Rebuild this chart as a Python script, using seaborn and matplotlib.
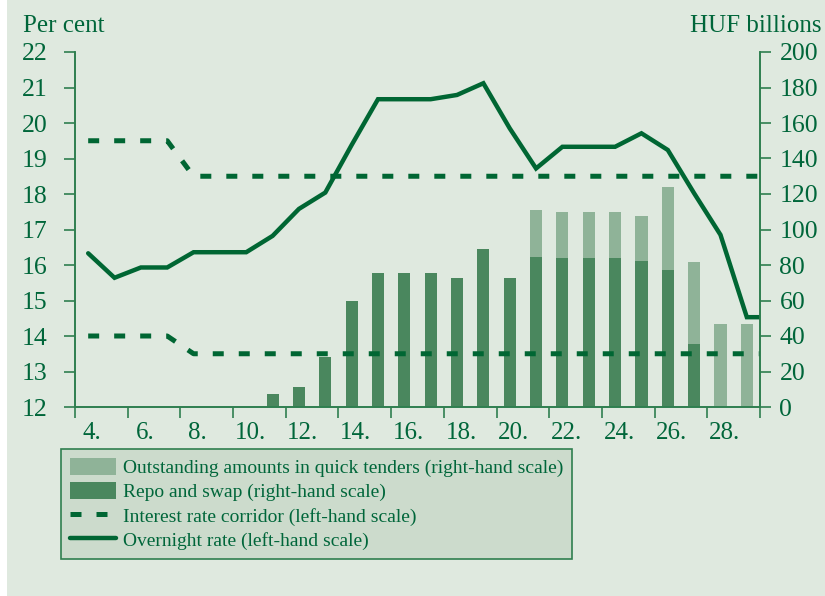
import numpy as np
import pandas as pd
import matplotlib
matplotlib.use("Agg")
import matplotlib.pyplot as plt
import matplotlib.transforms as mtransforms
from matplotlib.patches import Patch, Rectangle
from matplotlib.lines import Line2D
import seaborn as sns

# days of the month shown on the category axis
days = list(range(4, 30))
# overnight rate, per cent (left-hand scale)
overnight = [16.33, 15.64, 15.93, 15.93, 16.36, 16.36, 16.36, 16.82, 17.58, 18.04,
             19.38, 20.67, 20.67, 20.67, 20.79, 21.12, 19.85, 18.72, 19.33, 19.33,
             19.33, 19.71, 19.24, 18.02, 16.85, 14.53]
# interest rate corridor, per cent (left-hand scale)
corridor_upper = [19.5, 19.5, 19.5, 19.5] + [18.5] * 22
corridor_lower = [14.0, 14.0, 14.0, 14.0] + [13.5] * 22
# repo and swap, HUF billions (right-hand scale)
repo_swap = [0, 0, 0, 0, 0, 0, 0, 7.3, 11.5, 28.3, 59.9, 75.3, 75.3, 75.3, 72.9,
             89.0, 72.9, 84.7, 83.8, 83.8, 83.8, 82.3, 77.2, 35.5, 0, 0]
# outstanding amounts in quick tenders, HUF billions (right-hand scale)
quick_tenders = [0, 0, 0, 0, 0, 0, 0, 0, 0, 0, 0, 0, 0, 0, 0,
                 0, 0, 26.3, 26.2, 26.2, 26.2, 25.3, 46.6, 46.4, 46.6, 46.6]

legend_labels = ["Outstanding amounts in quick tenders (right-hand scale)",
                 "Repo and swap (right-hand scale)",
                 "Interest rate corridor (left-hand scale)",
                 "Overnight rate (left-hand scale)"]

bg = "#dfe9df"
txt = "#00663a"
axis_col = "#2f7f4f"
dark_bar = "#4a875e"
light_bar = "#8fb398"
line_col = "#006633"

sns.set_style("white")
plt.rcParams["font.family"] = ["Liberation Serif", "DejaVu Serif"]

df = pd.DataFrame({"day": [str(d) for d in days],
                   "repo": repo_swap,
                   "total": np.array(repo_swap) + np.array(quick_tenders)})

fig = plt.figure(figsize=(8.25, 5.96), dpi=100, facecolor=bg)
fig.patches.append(Rectangle((0, 0), 7 / 825, 1, transform=fig.transFigure,
                             facecolor="white", edgecolor="none", zorder=-1))
ax = fig.add_axes([75 / 825, 1 - 407 / 596, 685 / 825, 355 / 596])
ax.set_facecolor("none")

order = df["day"].tolist()
sns.barplot(data=df, x="day", y="total", order=order, color=light_bar,
            saturation=1, width=0.46, linewidth=0, ax=ax)
sns.barplot(data=df, x="day", y="repo", order=order, color=dark_bar,
            saturation=1, width=0.46, linewidth=0, ax=ax)
ax.set_ylim(0, 200)
ax.set_xlim(-0.5, len(days) - 0.5)

ax2 = ax.twinx()
ax2.set_facecolor("none")
xs = list(range(len(days))) + [len(days) - 0.5]
ext = lambda v: list(v) + [v[-1]]
sns.lineplot(x=xs, y=ext(overnight), color=line_col, lw=3.2, ax=ax2,
             solid_joinstyle="miter", sort=False)
for corr in (corridor_upper, corridor_lower):
    sns.lineplot(x=xs, y=ext(corr), color=line_col, lw=3.6, ax=ax2,
                 linestyle=(0, (2.2, 3.0)), dash_capstyle="butt", sort=False)
ax2.set_ylim(12, 22)
ax2.set_xlim(-0.5, len(days) - 0.5)

# right axis: HUF billions (bars), left axis: per cent (lines)
ax.yaxis.tick_right()
ax.yaxis.set_label_position("right")
ax2.yaxis.tick_left()
ax.set_yticks(range(0, 201, 20))
ax2.set_yticks(range(12, 23))
ax.set_xlabel("")
ax.set_ylabel("")
ax2.set_ylabel("")

ax.set_xticks(np.arange(-0.5, len(days), 2))
ax.set_xticklabels([])
ax.set_xticks(np.arange(0, len(days), 2), minor=True)
ax.set_xticklabels([f"{d}." for d in days[::2]], minor=True)
ax.tick_params(axis="x", which="major", bottom=True, length=8, width=1.2,
               color=axis_col, direction="out")
ax.tick_params(axis="x", which="minor", bottom=True, length=0, pad=11,
               labelsize=18, labelcolor=txt)
ax.tick_params(axis="y", right=True, length=8, width=1.2, color=axis_col, pad=6,
               labelsize=18.5, labelcolor=txt)
ax2.tick_params(axis="y", left=True, length=8, width=1.2, color=axis_col, pad=12,
                labelsize=18.5, labelcolor=txt)
ax2.tick_params(axis="x", bottom=False, labelbottom=False)
shift = mtransforms.ScaledTranslation(4 / 100, 0, fig.dpi_scale_trans)
for lab in ax.xaxis.get_minorticklabels():
    lab.set_transform(lab.get_transform() + shift)

for a in (ax, ax2):
    a.spines["top"].set_visible(False)
    for s in ("left", "right", "bottom"):
        a.spines[s].set_color(axis_col)
        a.spines[s].set_linewidth(1.2)

fig.text(23 / 825, 1 - 32 / 596, "Per cent", fontsize=18, color=txt, ha="left", va="baseline")
fig.text(821 / 825, 1 - 32 / 596, "HUF billions", fontsize=18, color=txt, ha="right", va="baseline")

handles = [Patch(facecolor=light_bar, edgecolor="none"),
           Patch(facecolor=dark_bar, edgecolor="none"),
           Line2D([], [], color=line_col, lw=3.6, linestyle=(0, (2.2, 3.0)), dash_capstyle="butt"),
           Line2D([], [], color=line_col, lw=3.2)]
leg = fig.legend(handles, legend_labels, loc="upper left",
                 bbox_to_anchor=(61 / 825, 1 - 449 / 596), frameon=True,
                 fancybox=False, facecolor="#ccdbcc", edgecolor=axis_col,
                 framealpha=1, fontsize=14, labelcolor=txt, handlelength=2.4,
                 handleheight=1.0, handletextpad=0.35, labelspacing=0.25,
                 borderpad=0.45, borderaxespad=0)
leg.get_frame().set_linewidth(1.2)

fig.savefig("out.png", dpi=100, facecolor=bg)
